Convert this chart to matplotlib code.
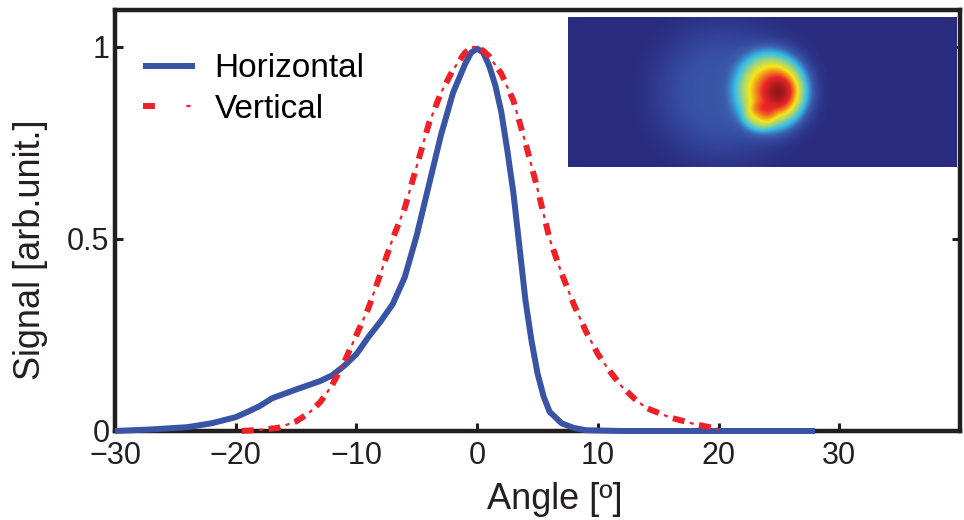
import matplotlib
matplotlib.use("Agg")
import matplotlib.pyplot as plt
import numpy as np
from matplotlib.colors import LinearSegmentedColormap
from matplotlib.legend_handler import HandlerTuple

plt.rcParams["font.family"] = ["Liberation Sans", "DejaVu Sans"]
plt.rcParams["lines.scale_dashes"] = False

# Horizontal profile
h_angle = [-30, -27, -24, -22, -20, -19, -18, -17, -15, -13, -12, -11, -10, -9, -8,
           -7, -6, -5, -4, -3, -2, -1, -0.5, 0, 0.5, 1, 1.5, 2, 2.5, 3, 3.5, 4,
           4.5, 5, 5.5, 6, 7, 8, 9, 12, 20, 28]
h_signal = [0, 0.004, 0.01, 0.02, 0.036, 0.05, 0.065, 0.085, 0.108, 0.13, 0.145,
            0.17, 0.2, 0.245, 0.285, 0.33, 0.40, 0.51, 0.64, 0.77, 0.88, 0.955,
            0.985, 0.995, 0.985, 0.95, 0.9, 0.83, 0.73, 0.62, 0.48, 0.34, 0.235,
            0.15, 0.09, 0.05, 0.02, 0.008, 0.002, 0, 0, 0]

# Vertical profile
v_angle = [-19.5, -18, -16.5, -15, -14, -13, -12, -11, -10, -9, -8, -7, -6, -5, -4,
           -3, -2, -1, -0.3, 0.5, 1, 2, 3, 4, 5, 6, 7, 8, 9, 10, 11, 12, 13, 14,
           16, 18, 20]
v_signal = [0, 0.003, 0.008, 0.025, 0.045, 0.075, 0.12, 0.18, 0.25, 0.32, 0.41,
            0.50, 0.58, 0.69, 0.80, 0.88, 0.94, 0.985, 1.0, 0.99, 0.975, 0.93,
            0.86, 0.75, 0.63, 0.5, 0.41, 0.33, 0.26, 0.2, 0.155, 0.115, 0.085,
            0.06, 0.035, 0.018, 0.005]

x_ticks = [-30, -20, -10, 0, 10, 20, 30]
y_ticks = [0, 0.5, 1]
y_tick_labels = ["0", "0.5", "1"]

# inset beam image: halo, body, core, tail blobs
blob_amp = [0.21, 0.55, 0.4, 0.14]
blob_x0 = [0.40, 0.53, 0.545, 0.49]
blob_y0 = [0.5, 0.49, 0.5, 0.67]
blob_sx = [0.15, 0.085, 0.035, 0.035]
blob_sy = [0.38, 0.24, 0.10, 0.08]
blob_pow = [2.0, 2.0, 1.0, 2.0]

img_stops = [0.0, 0.12, 0.22, 0.36, 0.5, 0.62, 0.8, 1.0]
img_colors = ["#2a2d7f", "#32449a", "#3d5fae", "#35bde8", "#9ed57f", "#f5e716",
              "#ec2626", "#7a1214"]

blue = "#3953a5"
red = "#ee2028"
black = "#231f20"

fig = plt.figure(figsize=(9.64, 5.2), dpi=100)
ax = fig.add_axes([0.1193, 0.1712, 0.8766, 0.8098])

(l_h,) = ax.plot(h_angle, h_signal, color=blue, lw=4.3, solid_capstyle="butt",
                 solid_joinstyle="round", zorder=3, clip_on=False)
(l_v1,) = ax.plot(v_angle, v_signal, color=red, lw=4.3, zorder=4, clip_on=False,
                  linestyle=(0, (8.6, 10.8)))
(l_v2,) = ax.plot(v_angle, v_signal, color=red, lw=1.6, zorder=4, clip_on=False,
                  linestyle=(6.85, (2.9, 16.5)))

ax.set_xlim(-30, 40)
ax.set_ylim(0, 1.096)
ax.set_xticks(x_ticks)
ax.set_yticks(y_ticks)
ax.set_yticklabels(y_tick_labels)
ax.tick_params(direction="in", length=6, width=2.2, color=black, labelsize=22,
               labelcolor=black, right=True)
ax.tick_params(axis="x", pad=7)
ax.tick_params(axis="y", pad=4)
for sp in ax.spines.values():
    sp.set_linewidth(3.2)
    sp.set_color(black)

ax.set_xlabel("Angle [º]", fontsize=26, color=black)
ax.set_ylabel("Signal [arb.unit.]", fontsize=26, color=black)
ax.xaxis.set_label_coords(0.52, -0.12)
ax.yaxis.set_label_coords(-0.079, 0.43)

ax.legend([l_h, (l_v1, l_v2)], ["Horizontal", "Vertical"],
          handler_map={tuple: HandlerTuple(ndivide=None)},
          loc="upper left", bbox_to_anchor=(0.033, 0.897), frameon=False,
          fontsize=24, handlelength=1.55, handletextpad=0.6, labelspacing=0.28,
          borderaxespad=0, borderpad=0)

# inset image
ins = fig.add_axes([0.589, 0.679, 0.4035, 0.288])
gx, gy = np.meshgrid(np.linspace(0, 1, 389), np.linspace(0, 1, 150))
img = np.zeros_like(gx)
for a, x0, y0, sx, sy, p in zip(blob_amp, blob_x0, blob_y0, blob_sx, blob_sy, blob_pow):
    r2 = ((gx - x0) / sx) ** 2 + ((gy - y0) / sy) ** 2
    img += a * np.exp(-0.5 * r2 ** p)
cmap = LinearSegmentedColormap.from_list("beam", list(zip(img_stops, img_colors)))
ins.imshow(img, cmap=cmap, vmin=0, vmax=1.15, aspect="auto", interpolation="bilinear")
ins.set_axis_off()

fig.savefig("out.png", dpi=100)
